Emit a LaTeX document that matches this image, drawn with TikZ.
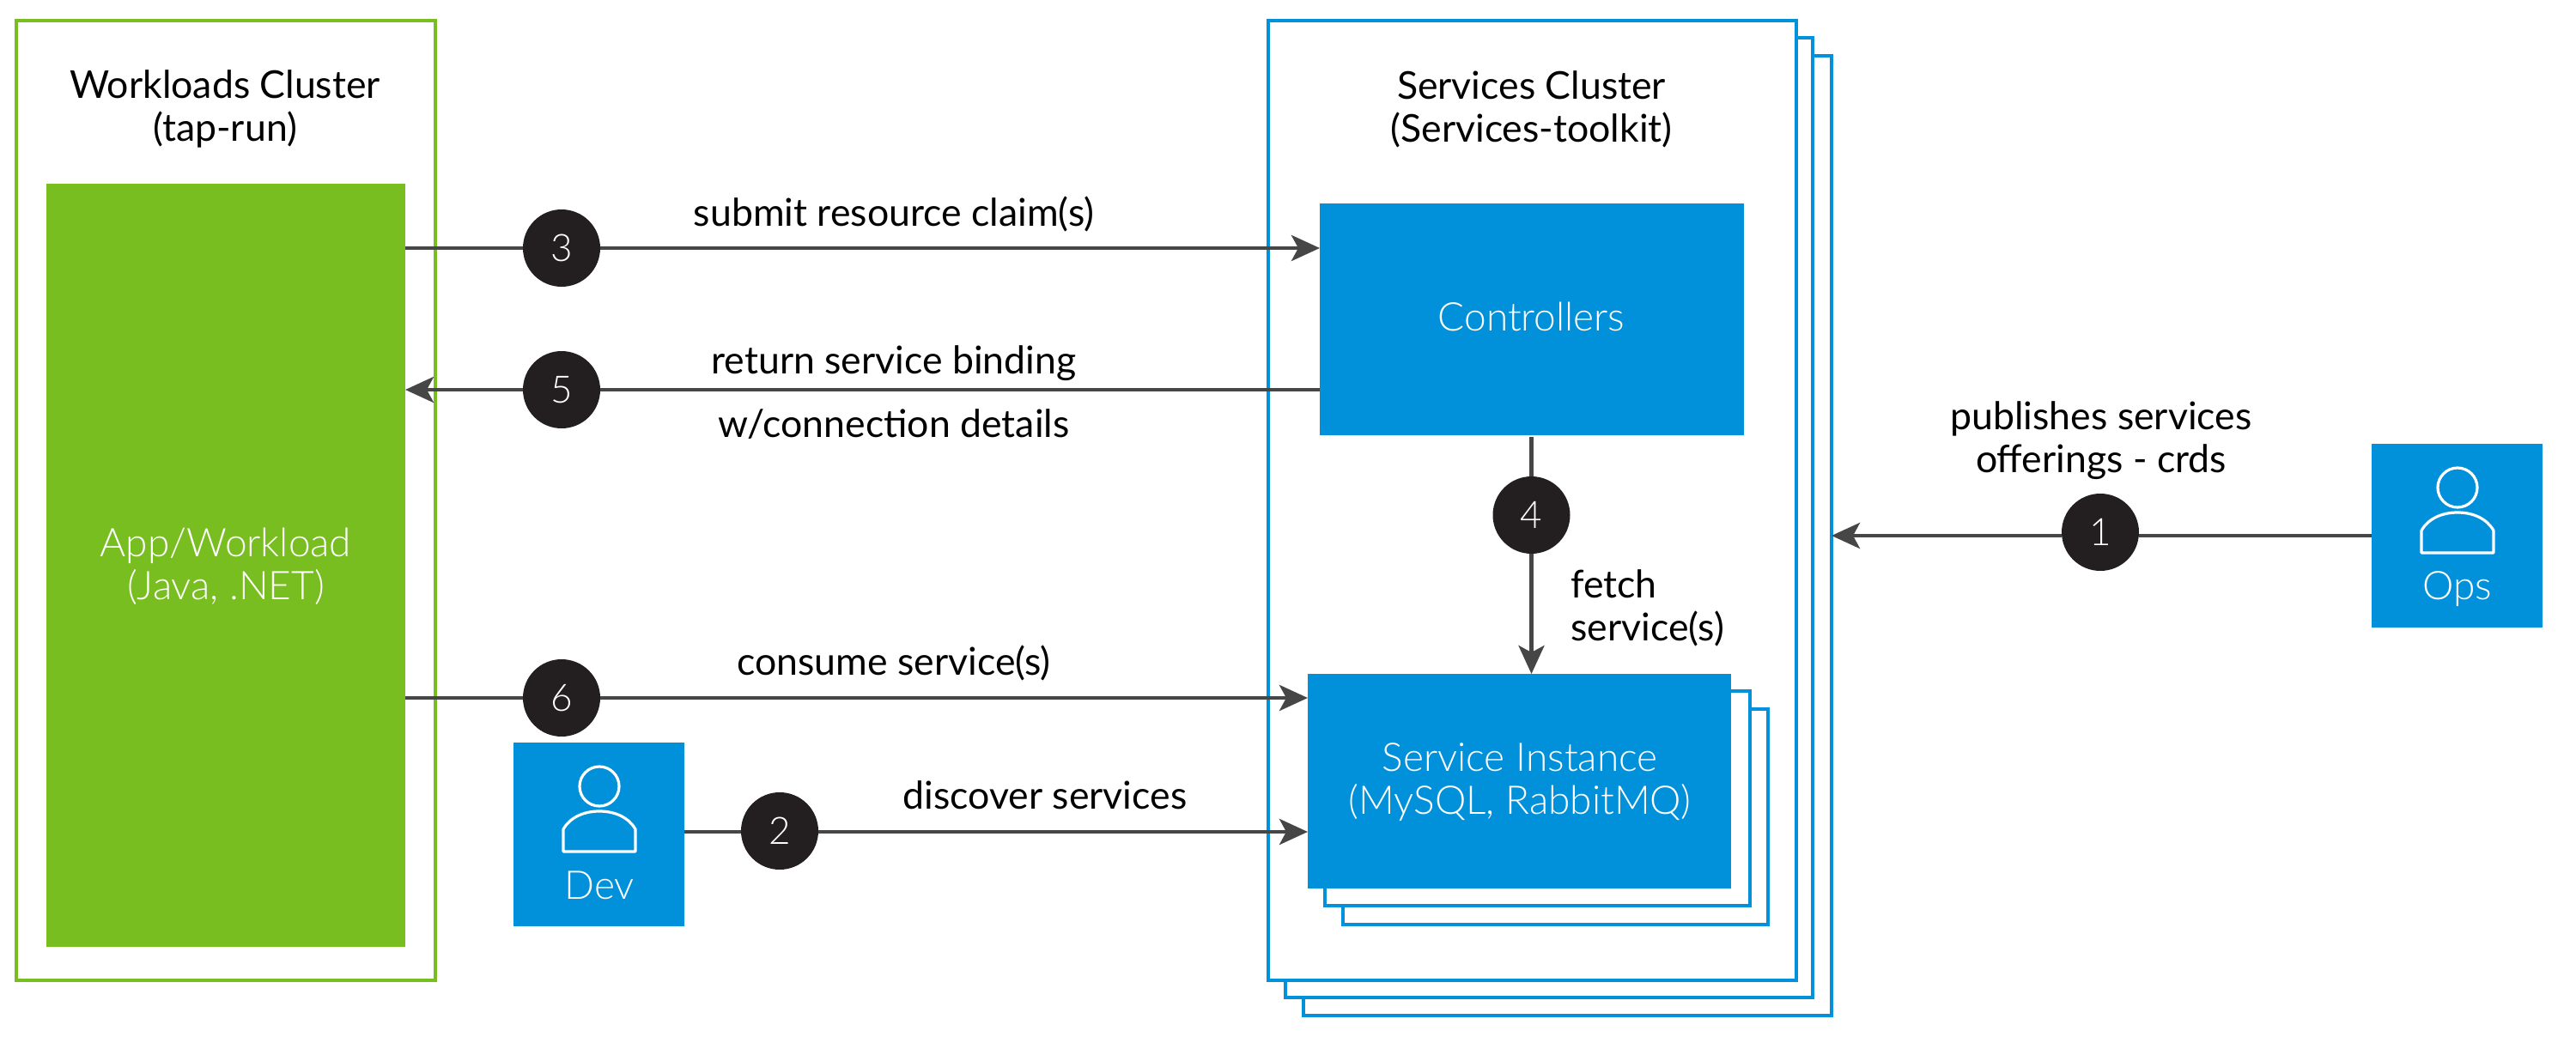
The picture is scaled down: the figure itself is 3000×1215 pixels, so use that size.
\documentclass[tikz,border=0pt]{standalone}
\usepackage{fontspec}
\setmainfont{Lato Light}
\newfontfamily\blackfont{Lato}
\usetikzlibrary{arrows.meta}
\definecolor{vgreen}{HTML}{78BE20}
\definecolor{vblue}{HTML}{0091DA}
\definecolor{vdark}{HTML}{231F20}
\definecolor{vline}{HTML}{464646}
\tikzset{
  box/.style={rectangle,inner sep=0pt,outer sep=0pt,anchor=north west},
  gframe/.style={box,draw=vgreen,line width=2.4pt,fill=white},
  bframe/.style={box,draw=vblue,line width=2pt,fill=white},
  gfill/.style={box,fill=vgreen},
  bfill/.style={box,fill=vblue},
  num/.style={circle,fill=vdark,text=white,inner sep=0pt,outer sep=0pt,minimum size=45pt,font=\fontsize{22}{24}\selectfont},
  lbl/.style={text=black,align=center,inner sep=0pt,font=\blackfont\fontsize{22.3}{25}\selectfont},
  wlbl/.style={text=white,align=center,inner sep=0pt,font=\fontsize{23}{25}\selectfont},
  conn/.style={draw=vline,line width=2.4pt},
  arr/.style={conn,-{Stealth[length=16.5pt,width=15pt,inset=4pt]}},
  person/.style={draw=white,line width=1.6pt}
}
\newcommand{\personicon}[2]{%
  \draw[person] (#1,#2) ellipse (11.5pt and 11.5pt);
  \draw[person,line join=round] ({#1-42},{#2+76}) -- ({#1-42},{#2+50})
    .. controls ({#1-34},{#2+36}) and ({#1-18},{#2+29}) .. ({#1},{#2+29})
    .. controls ({#1+18},{#2+29}) and ({#1+34},{#2+36}) .. ({#1+42},{#2+50})
    -- ({#1+42},{#2+76}) -- cycle;
}
\begin{document}
\begin{tikzpicture}[x=0.5pt,y=-0.5pt]
\useasboundingbox (0,0) rectangle (3000,1215);
% workloads
\node[gframe,minimum width=244pt,minimum height=559pt] (wl) at (19,24) {};
\node[gfill,minimum width=209pt,minimum height=444.5pt] (app) at (54,214) {};
\node[lbl] (wlt) at (262,127) {Workloads Cluster\\(tap-run)};
\node[wlbl] (appt) at (263,660) {App/Workload\\(Java, .NET)};
% services frames
\node[bframe,minimum width=307.5pt,minimum height=559pt] (s3) at (1518,65) {};
\node[bframe,minimum width=307pt,minimum height=559pt] (s2) at (1497,44) {};
\node[bframe,minimum width=307.5pt,minimum height=559pt] (s1) at (1477,24) {};
\node[lbl] (st) at (1783.5,127) {Services Cluster\\(Services-toolkit)};
\node[bfill,minimum width=247pt,minimum height=135pt] (ctrl) at (1537,237) {};
\node[wlbl] (ctrlt) at (1783.5,369) {Controllers};
\node[bframe,minimum width=247.5pt,minimum height=125.5pt] (i3) at (1564,826) {};
\node[bframe,minimum width=247.5pt,minimum height=125pt] (i2) at (1543,805) {};
\node[bfill,minimum width=246.5pt,minimum height=125pt] (inst) at (1523,785) {};
\node[wlbl] (instt) at (1770,911) {Service Instance\\(MySQL, RabbitMQ)};
% actors
\node[bfill,minimum width=99.5pt,minimum height=107pt] (dev) at (598,865) {};
\personicon{698}{916}
\node[wlbl] (devt) at (698,1031) {Dev};
\node[bfill,minimum width=99.5pt,minimum height=107pt] (ops) at (2762,517) {};
\personicon{2862}{568}
\node[wlbl] (opst) at (2862,686) {Ops};
% circles
\node[num] (c1) at (2446,620) {1};
\node[num] (c2) at (908,968) {2};
\node[num] (c3) at (654,289) {3};
\node[num] (c4) at (1783.5,600) {4};
\node[num] (c5) at (654,454) {5};
\node[num] (c6) at (654,813) {6};
% connectors
\coordinate (y1) at (0,624);
\coordinate (y2) at (0,969);
\coordinate (x4) at (1783.5,509);
\draw[conn] (app.east |- c3) -- (c3);
\draw[arr] (c3) -- (ctrl.west |- c3);
\draw[conn] (ctrl.west |- c5) -- (c5);
\draw[arr] (c5) -- (app.east |- c5);
\draw[conn] (app.east |- c6) -- (c6);
\draw[arr] (c6) -- (inst.west |- c6);
\draw[conn] (dev.east |- y2) -- (c2.west |- y2);
\draw[arr] (c2.east |- y2) -- (inst.west |- y2);
\draw[conn] (ops.west |- y1) -- (c1.east |- y1);
\draw[arr] (c1.west |- y1) -- (s3.east |- y1);
\draw[conn] (x4) -- (c4);
\draw[arr] (c4) -- (c4 |- inst.north);
% labels
\node[lbl] (l3) at (1041,249) {submit resource claim(s)};
\node[lbl] (l5a) at (1041,423) {return service binding};
\node[lbl] (l5b) at (1041,494) {w/connection details};
\node[lbl] (l6) at (1041,772) {consume service(s)};
\node[lbl] (l2) at (1217,926) {discover services};
\node[lbl,align=left,anchor=west] (l4) at (1829,708) {fetch\\service(s)};
\node[lbl] (l1) at (2447,513) {publishes services\\offerings - crds};
\end{tikzpicture}
\end{document}
